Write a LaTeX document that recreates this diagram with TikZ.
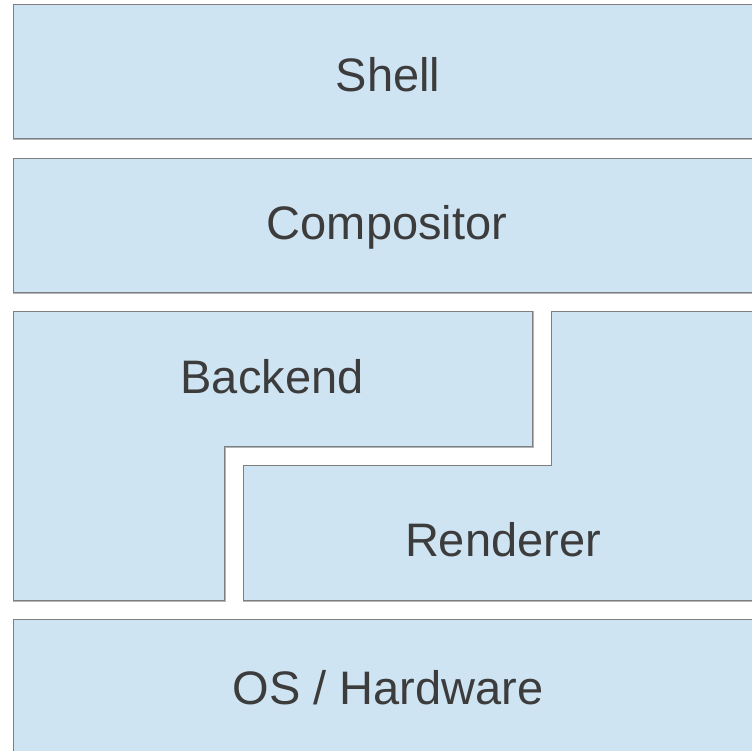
\documentclass[tikz,border=0pt]{standalone}
\usepackage{fontspec}
\setmainfont{Liberation Sans}
\definecolor{boxfill}{HTML}{CFE4F2}
\definecolor{boxline}{HTML}{7F7F7F}
\definecolor{boxshade}{HTML}{AEB4B8}
\definecolor{txt}{HTML}{3C3C3C}
\begin{document}
\begin{tikzpicture}[x=1pt,y=-1pt,
  layer/.style={fill=boxfill,draw=boxline,line width=1pt},
  shade/.style={draw=boxshade,line width=2pt},
  lbl/.style={text=txt,font=\fontsize{47}{50}\selectfont,inner sep=0pt}]
\useasboundingbox (0,0) rectangle (752,750);
\clip (0,0) rectangle (752,750);
% shadows
\begin{scope}[shift={(1,1)}]
\draw[shade] (13,4) rectangle (770,138);
\draw[shade] (13,158) rectangle (770,292);
\draw[shade] (13,311) -- (532,311) -- (532,446) -- (224,446) -- (224,600) -- (13,600) -- cycle;
\draw[shade] (551,311) -- (770,311) -- (770,600) -- (243,600) -- (243,465) -- (551,465) -- cycle;
\draw[shade] (13,619) rectangle (770,770);
\end{scope}
% layers
\draw[layer] (13,4) rectangle (770,138);
\draw[layer] (13,158) rectangle (770,292);
\draw[layer] (13,311) -- (532,311) -- (532,446) -- (224,446) -- (224,600) -- (13,600) -- cycle;
\draw[layer] (551,311) -- (770,311) -- (770,600) -- (243,600) -- (243,465) -- (551,465) -- cycle;
\draw[layer] (13,619) rectangle (770,770);
% labels
\node[lbl] (shell) at (388,75) {Shell};
\node[lbl] (comp) at (387,227) {Compositor};
\node[lbl] (backend) at (272,377) {Backend};
\node[lbl] (renderer) at (503,540) {Renderer};
\node[lbl] (os) at (388,688) {OS / Hardware};
\end{tikzpicture}
\end{document}
